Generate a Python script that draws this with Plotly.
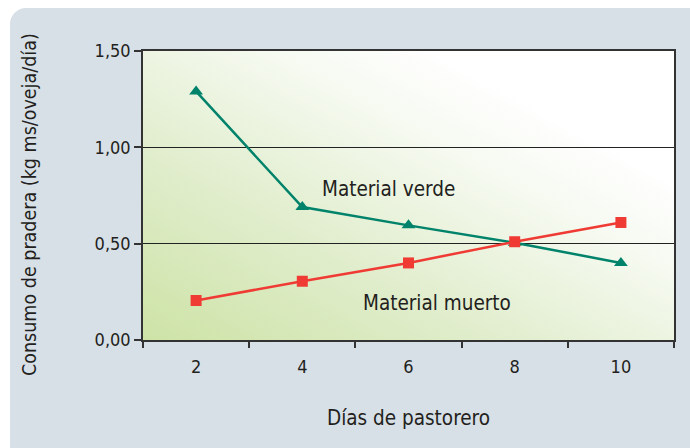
import base64
import plotly.graph_objects as go

# ---- data ----
dias = [2, 4, 6, 8, 10]
material_verde = [1.29, 0.69, 0.595, 0.505, 0.40]
material_muerto = [0.205, 0.305, 0.40, 0.51, 0.61]
y_ticks = [0, 0.5, 1.0, 1.5]
y_tick_labels = ["0,00", "0,50", "1,00", "1,50"]
x_title = "Días de pastorero"
y_title = "Consumo de pradera (kg ms/oveja/día)"
label_verde = "Material verde"
label_muerto = "Material muerto"

W, H = 690, 448
L, R, T, B = 143, 674, 51, 340  # plot area pixels
FONT = "DejaVu Sans Condensed, Liberation Sans Narrow, Roboto, sans-serif"
TXT = "#231f20"

svg = f'''<svg xmlns="http://www.w3.org/2000/svg" width="{W}" height="{H}" viewBox="0 0 {W} {H}" preserveAspectRatio="none">
<defs><linearGradient id="g" x1="0" y1="1" x2="1" y2="0">
<stop offset="0" stop-color="#cde3a6"/>
<stop offset="0.35" stop-color="#e2eecf"/>
<stop offset="0.62" stop-color="#f6faf1"/>
<stop offset="0.78" stop-color="#ffffff"/>
<stop offset="1" stop-color="#ffffff"/>
</linearGradient></defs>
<rect x="10" y="8" width="720" height="480" rx="16" ry="16" fill="#d8e0e7"/>
<rect x="{L}" y="{T}" width="{R-L}" height="{B-T}" fill="url(#g)"/>
</svg>'''
src = "data:image/svg+xml;base64," + base64.b64encode(svg.encode()).decode()

pw, ph = R - L, B - T

fig = go.Figure()
fig.add_trace(go.Scatter(
    x=dias, y=material_verde, mode="lines+markers",
    line=dict(color="#00836a", width=2.5),
    marker=dict(symbol="triangle-up", size=12, color="#00836a"),
    showlegend=False, cliponaxis=False))
fig.add_trace(go.Scatter(
    x=dias, y=material_muerto, mode="lines+markers",
    line=dict(color="#ef3b34", width=2.5),
    marker=dict(symbol="square", size=11, color="#ef3b34"),
    showlegend=False, cliponaxis=False))

fig.add_annotation(x=5.63, y=0.786, text=label_verde, showarrow=False,
                   font=dict(family=FONT, size=20.5, color=TXT))
fig.add_annotation(x=6.54, y=0.19, text=label_muerto, showarrow=False,
                   font=dict(family=FONT, size=20.5, color=TXT))
# y-axis title placed as rotated text to match its off-centre position
fig.add_annotation(xref="paper", yref="paper", x=(30 - L) / pw, y=(B - 205) / ph,
                   text=y_title, textangle=-90, showarrow=False,
                   xanchor="center", yanchor="middle",
                   font=dict(family=FONT, size=19.5, color=TXT))

fig.add_layout_image(dict(
    source=src, xref="paper", yref="paper",
    x=-L / pw, y=1 + T / ph, sizex=W / pw, sizey=H / ph,
    xanchor="left", yanchor="top", sizing="stretch", layer="below"))

fig.update_layout(
    width=W, height=H,
    margin=dict(l=L, r=W - R, t=T, b=H - B, autoexpand=False),
    paper_bgcolor="white", plot_bgcolor="rgba(0,0,0,0)",
    font=dict(family=FONT, size=17, color=TXT),
    xaxis=dict(range=[1, 11], tickvals=dias, ticktext=[str(d) for d in dias],
               ticks="", showgrid=False, zeroline=False, automargin=False,
               showline=True, linecolor="#333333", linewidth=1.5, mirror=True,
               minor=dict(ticks="outside", tick0=1, dtick=2, ticklen=6,
                          tickcolor="#333333", tickwidth=1.5, showgrid=False),
               ticklabelstandoff=10, tickfont=dict(size=18),
               title=dict(text=x_title, standoff=34, font=dict(size=20.5))),
    yaxis=dict(range=[0, 1.5], tickvals=y_ticks, ticktext=y_tick_labels,
               ticks="outside", ticklen=7, tickcolor="#333333", tickwidth=1.5,
               showgrid=True, gridcolor="#222222", gridwidth=1.2, zeroline=False,
               showline=True, linecolor="#333333", linewidth=1.5, mirror=True,
               automargin=False, tickfont=dict(size=18)),
)

fig.write_html("out.html", config={"displayModeBar": False},
               post_script="document.body.style.margin='0';document.body.style.overflow='hidden';")
